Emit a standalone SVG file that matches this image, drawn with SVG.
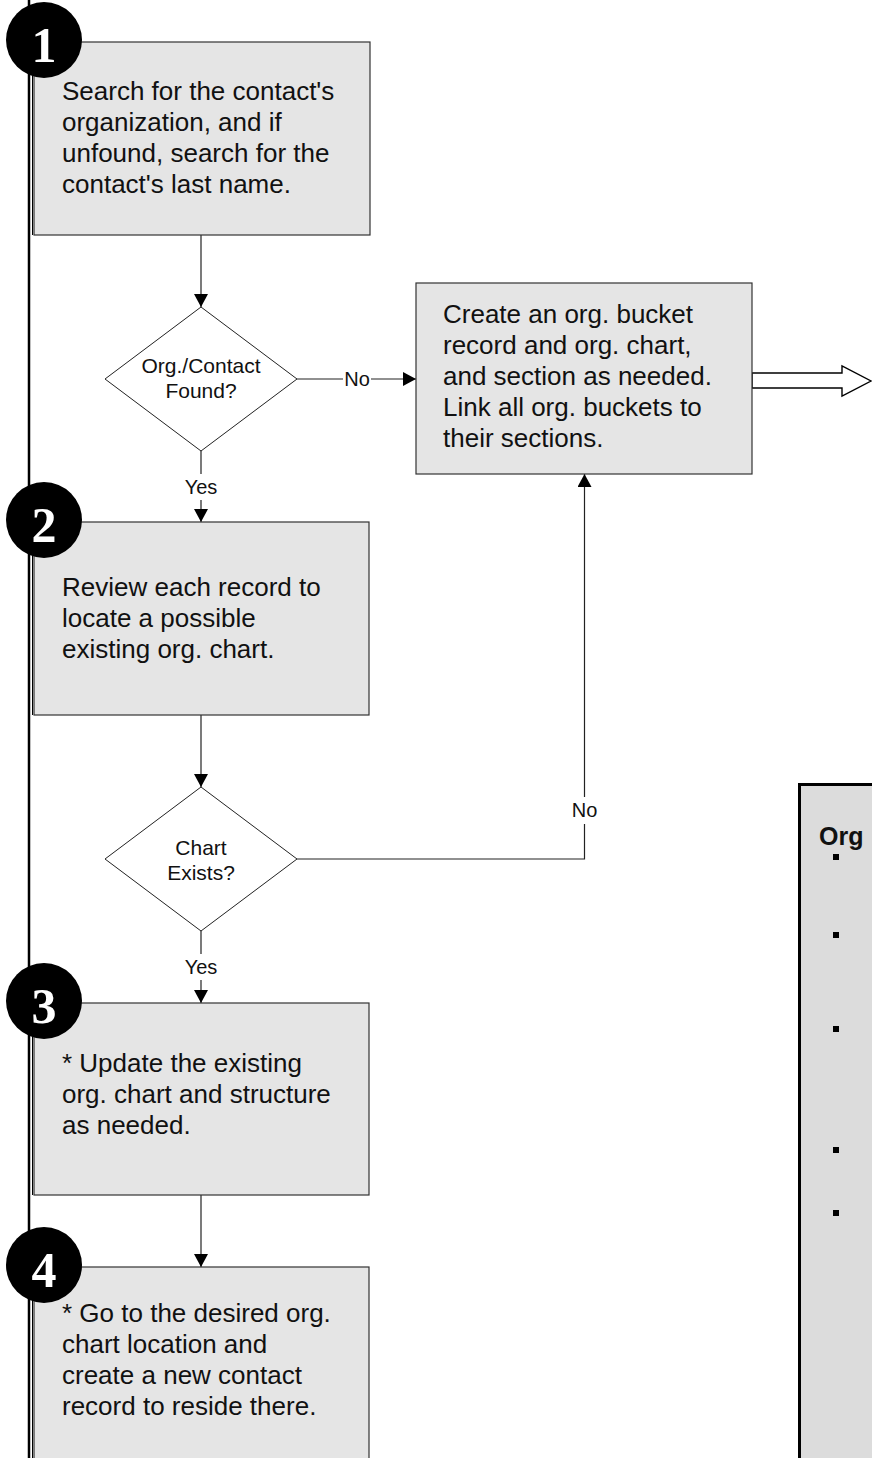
<svg xmlns="http://www.w3.org/2000/svg" width="872" height="1458" viewBox="0 0 872 1458">
<style>
.box{fill:#e5e5e5;stroke:#333;stroke-width:1.2}
.dia{fill:#fff;stroke:#222;stroke-width:1}
.t{font-family:"Liberation Sans",Arial,sans-serif;font-size:26px;fill:#111}
.dt{font-family:"Liberation Sans",Arial,sans-serif;font-size:21px;fill:#111;text-anchor:middle}
.lb{font-family:"Liberation Sans",Arial,sans-serif;font-size:20px;fill:#111;text-anchor:middle}
.c{stroke:#222;stroke-width:1.2;fill:none}
.num{font-family:"Liberation Serif","Times New Roman",serif;font-weight:bold;font-size:50px;fill:#fff;text-anchor:middle}
.circ{fill:#000}
.bul{fill:#000}
</style>
<defs>
<marker id="ah" markerUnits="userSpaceOnUse" markerWidth="14" markerHeight="14" refX="13" refY="7" orient="auto">
<path d="M0,0 L13,7 L0,14 z" fill="#000"/>
</marker>
</defs>
<rect width="872" height="1458" fill="#fff"/>
<g id="lane">
<line x1="29" y1="0" x2="29" y2="1458" stroke="#000" stroke-width="2.5"/>
<line x1="32.5" y1="42" x2="32.5" y2="235" stroke="#000" stroke-width="1"/>
<line x1="32.5" y1="522" x2="32.5" y2="715" stroke="#000" stroke-width="1"/>
<line x1="32.5" y1="1003" x2="32.5" y2="1195" stroke="#000" stroke-width="1"/>
<line x1="32.5" y1="1267" x2="32.5" y2="1458" stroke="#000" stroke-width="1"/>
</g>
<g id="connectors">
<line class="c" x1="201" y1="235" x2="201" y2="307" marker-end="url(#ah)"/>
<line class="c" x1="297" y1="379" x2="343" y2="379"/>
<text class="lb" x="357" y="386">No</text>
<line class="c" x1="371" y1="379" x2="416" y2="379" marker-end="url(#ah)"/>
<line class="c" x1="201" y1="451" x2="201" y2="474"/>
<text class="lb" x="201" y="494">Yes</text>
<line class="c" x1="201" y1="500" x2="201" y2="522" marker-end="url(#ah)"/>
<line class="c" x1="201" y1="715" x2="201" y2="787" marker-end="url(#ah)"/>
<polyline class="c" points="297,859 584.5,859 584.5,824"/>
<text class="lb" x="584.5" y="817">No</text>
<line class="c" x1="584.5" y1="797" x2="584.5" y2="474" marker-end="url(#ah)"/>
<line class="c" x1="201" y1="931" x2="201" y2="954"/>
<text class="lb" x="201" y="974">Yes</text>
<line class="c" x1="201" y1="980" x2="201" y2="1003" marker-end="url(#ah)"/>
<line class="c" x1="201" y1="1195" x2="201" y2="1267" marker-end="url(#ah)"/>
<polygon points="752,373 842,373 842,366 871,381 842,396 842,388 752,388" fill="#fff" stroke="#000" stroke-width="1.4"/>
</g>
<g id="step1">
<rect class="box" x="34" y="42" width="336" height="193"/>
<text class="t" x="62" y="100">Search for the contact's</text>
<text class="t" x="62" y="131">organization, and if</text>
<text class="t" x="62" y="162">unfound, search for the</text>
<text class="t" x="62" y="193">contact's last name.</text>
<circle class="circ" cx="44" cy="40" r="38"/>
<text class="num" x="44" y="62">1</text>
</g>
<g id="decision1">
<polygon class="dia" points="201,307 297,379 201,451 105,379"/>
<text class="dt" x="201" y="373">Org./Contact</text>
<text class="dt" x="201" y="398">Found?</text>
</g>
<g id="create">
<rect class="box" x="416" y="283" width="336" height="191"/>
<text class="t" x="443" y="323">Create an org. bucket</text>
<text class="t" x="443" y="354">record and org. chart,</text>
<text class="t" x="443" y="385">and section as needed.</text>
<text class="t" x="443" y="416">Link all org. buckets to</text>
<text class="t" x="443" y="447">their sections.</text>
</g>
<g id="step2">
<rect class="box" x="34" y="522" width="335" height="193"/>
<text class="t" x="62" y="596">Review each record to</text>
<text class="t" x="62" y="627">locate a possible</text>
<text class="t" x="62" y="658">existing org. chart.</text>
<circle class="circ" cx="44" cy="520" r="38"/>
<text class="num" x="44" y="542">2</text>
</g>
<g id="decision2">
<polygon class="dia" points="201,787 297,859 201,931 105,859"/>
<text class="dt" x="201" y="855">Chart</text>
<text class="dt" x="201" y="880">Exists?</text>
</g>
<g id="step3">
<rect class="box" x="34" y="1003" width="335" height="192"/>
<text class="t" x="62" y="1072">* Update the existing</text>
<text class="t" x="62" y="1103">org. chart and structure</text>
<text class="t" x="62" y="1134">as needed.</text>
<circle class="circ" cx="44" cy="1001" r="38"/>
<text class="num" x="44" y="1023">3</text>
</g>
<g id="step4">
<rect class="box" x="34" y="1267" width="335" height="200"/>
<text class="t" x="62" y="1322">* Go to the desired org.</text>
<text class="t" x="62" y="1353">chart location and</text>
<text class="t" x="62" y="1384">create a new contact</text>
<text class="t" x="62" y="1415">record to reside there.</text>
<circle class="circ" cx="44" cy="1265" r="38"/>
<text class="num" x="44" y="1287">4</text>
</g>
<g id="notes">
<rect x="799.5" y="784.5" width="100" height="700" fill="#dcdcdc" stroke="#000" stroke-width="3"/>
<text x="819" y="845" font-family="Liberation Sans,Arial,sans-serif" font-weight="bold" font-size="25" fill="#111">Org</text>
<rect class="bul" x="833" y="854" width="6" height="6"/>
<rect class="bul" x="833" y="932" width="6" height="6"/>
<rect class="bul" x="833" y="1026" width="6" height="6"/>
<rect class="bul" x="833" y="1147" width="6" height="6"/>
<rect class="bul" x="833" y="1210" width="6" height="6"/>
</g>
</svg>
